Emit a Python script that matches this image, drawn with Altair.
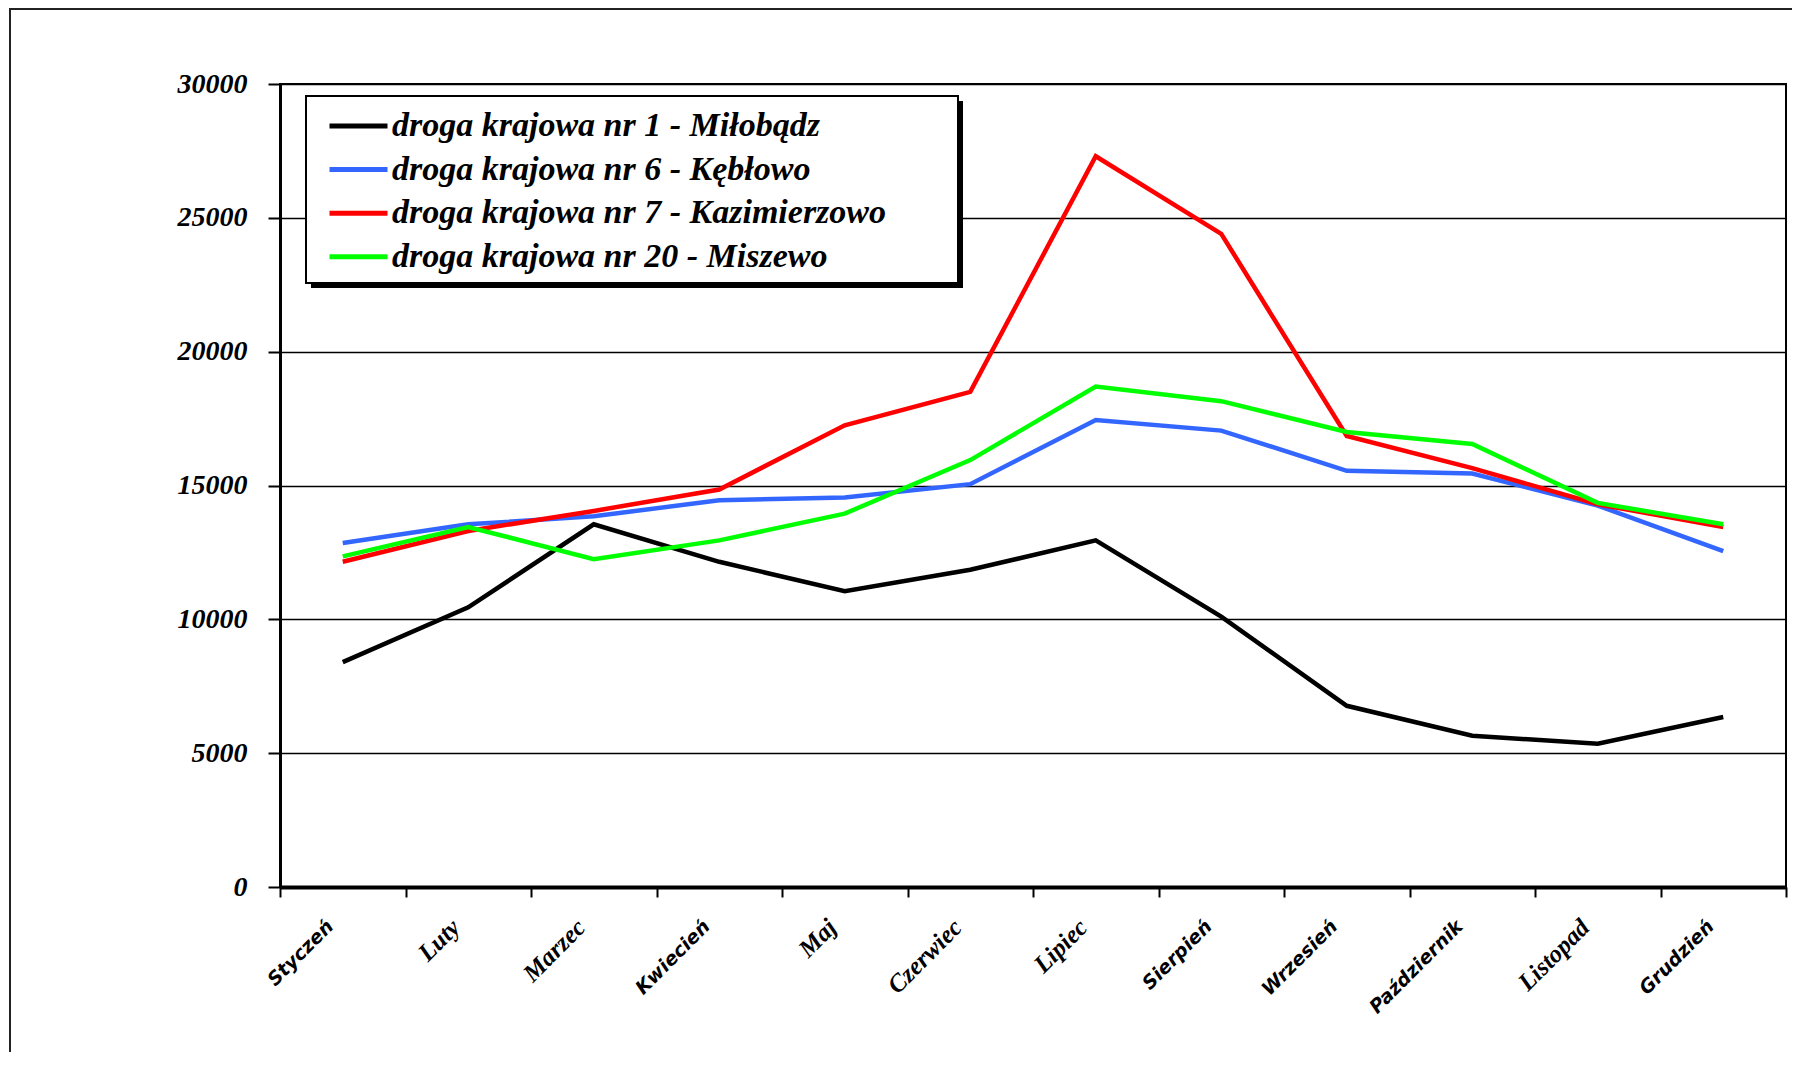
import altair as alt
import pandas as pd

months = ["Styczeń", "Luty", "Marzec", "Kwiecień", "Maj", "Czerwiec",
          "Lipiec", "Sierpień", "Wrzesień", "Październik", "Listopad", "Grudzień"]
serif_months = ["Luty", "Marzec", "Maj", "Czerwiec", "Lipiec", "Listopad"]

series_names = ["droga krajowa nr 1 - Miłobądz",
                "droga krajowa nr 6 - Kębłowo",
                "droga krajowa nr 7 -  Kazimierzowo",
                "droga krajowa nr 20 - Miszewo"]
series_colors = ["#000000", "#3366FF", "#FF0000", "#00FF00"]

nr1 = [8400, 10450, 13550, 12150, 11050, 11850, 12950, 10100, 6770, 5650, 5350, 6350]
nr6 = [12850, 13550, 13850, 14450, 14550, 15050, 17450, 17050, 15550, 15450, 14250, 12550]
nr7 = [12150, 13300, 14050, 14850, 17250, 18500, 27300, 24400, 16850, 15650, 14300, 13450]
nr20 = [12350, 13450, 12250, 12950, 13950, 15950, 18700, 18150, 17000, 16550, 14350, 13550]

y_ticks = [0, 5000, 10000, 15000, 20000, 25000, 30000]

rows = []
for name, vals in zip(series_names, [nr1, nr6, nr7, nr20]):
    for m, v in zip(months, vals):
        rows.append({"month": m, "value": v, "series": name})
df = pd.DataFrame(rows)

W, H = 1506, 803

serif_test = "indexof([" + ",".join("'%s'" % m for m in serif_months) + "], datum.value) >= 0"

x_axis = alt.Axis(
    title=None, tickBand="extent", grid=False,
    domainColor="black", domainWidth=4,
    tickColor="black", tickWidth=2, tickSize=10,
    labelAngle=-45, labelAlign="right", labelBaseline="middle",
    labelPadding=26, labelOffset=-13, labelColor="black",
    labelFont={"condition": {"test": serif_test, "value": "Liberation Serif"}, "value": "DejaVu Sans"},
    labelFontSize={"condition": {"test": serif_test, "value": 25}, "value": 19},
    labelFontWeight="bold",
    labelFontStyle="italic",
)

y_axis = alt.Axis(
    title=None, values=y_ticks, format="d",
    grid=True, gridColor="black", gridWidth=1.5, gridOpacity=1,
    domainColor="black", domainWidth=3,
    tickColor="black", tickWidth=2, tickSize=12,
    labelFont="Liberation Serif", labelFontSize=28, labelFontStyle="italic",
    labelFontWeight="bold", labelColor="black", labelPadding=21,
)

lines = alt.Chart(df).mark_line(strokeWidth=4.5).encode(
    x=alt.X("month:N", sort=months, bandPosition=0.5,
            scale=alt.Scale(type="band", paddingInner=0, paddingOuter=0), axis=x_axis),
    y=alt.Y("value:Q", scale=alt.Scale(domain=[0, 30000], nice=False), axis=y_axis),
    color=alt.Color("series:N", sort=series_names,
                    scale=alt.Scale(domain=series_names, range=series_colors),
                    legend=alt.Legend(
                        orient="none", legendX=47, legendY=25, title=None,
                        labelFont="Liberation Serif", labelFontSize=34,
                        labelFontStyle="italic", labelFontWeight="bold",
                        labelColor="black", labelLimit=1000,
                        symbolType="M-1,0L3,0", symbolSize=841, symbolStrokeWidth=5,
                        padding=0, rowPadding=9.6, labelOffset=31,
                    )),
)

one = alt.Data(values=[{"a": 1}])

frame = alt.Chart(one).mark_rect(
    fill="transparent", stroke="#222222", strokeWidth=2
).encode(x=alt.value(-270), x2=alt.value(W + 40), y=alt.value(-75), y2=alt.value(H + 300))

shadow = alt.Chart(one).mark_rect(fill="black").encode(
    x=alt.value(31), x2=alt.value(683), y=alt.value(17), y2=alt.value(204))

box = alt.Chart(one).mark_rect(fill="white", stroke="black", strokeWidth=2).encode(
    x=alt.value(26), x2=alt.value(678), y=alt.value(12), y2=alt.value(199))

chart = alt.layer(frame, shadow, box, lines).properties(
    width=W, height=H, autosize="none",
    padding={"left": 272, "top": 76, "right": 6, "bottom": 165},
).configure_view(stroke="black", strokeWidth=2)

chart.save("out.html", embed_options={"renderer": "svg", "actions": False})
